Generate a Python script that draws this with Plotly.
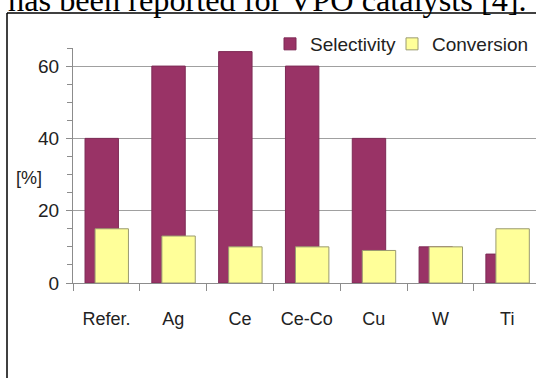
import plotly.graph_objects as go

categories = ["Refer.", "Ag", "Ce", "Ce-Co", "Cu", "W", "Ti"]
selectivity = [40, 60, 64, 60, 40, 10, 8]
conversion = [15, 13, 10, 10, 9, 10, 15]

W, H = 536, 378
L, R, T, B = 73, 536, 48, 283

def px(x):
    return (x - L) / (R - L)

def py(y):
    return (B - y) / (B - T)

font = "Liberation Sans, Arial, sans-serif"

fig = go.Figure()
fig.add_trace(go.Bar(
    x=categories, y=selectivity, name="Selectivity",
    marker=dict(color="#993366", line=dict(color="#7d2a55", width=1)),
    width=0.5, offset=-0.32, legend="legend",
))
fig.add_trace(go.Bar(
    x=categories, y=conversion, name="Conversion",
    marker=dict(color="#FFFF99", line=dict(color="#9a9a70", width=1)),
    width=0.5, offset=-0.17, legend="legend2",
))

leg_common = dict(orientation="h", yanchor="top", xanchor="left",
                  font=dict(size=19, color="#222222"), bgcolor="rgba(0,0,0,0)")

fig.update_layout(
    width=W, height=H,
    margin=dict(l=L, r=W - R, t=T, b=H - B),
    paper_bgcolor="white", plot_bgcolor="white",
    barmode="overlay",
    font=dict(family=font, size=18, color="#222222"),
    showlegend=True,
    legend=dict(x=px(270), y=py(25), **leg_common),
    legend2=dict(x=px(392), y=py(25), **leg_common),
    xaxis=dict(
        type="category", range=[-0.5, 6.43],
        showline=True, linecolor="#8c8c8c", linewidth=1,
        ticks="outside", tickson="boundaries", ticklen=7, tickcolor="#8c8c8c",
        showgrid=False, tickfont=dict(size=18, color="#222222"),
        ticklabelstandoff=19,
    ),
    yaxis=dict(
        range=[0, 65], tickvals=[0, 20, 40, 60],
        showline=True, linecolor="#8c8c8c", linewidth=1,
        ticks="outside", ticklen=6, tickcolor="#8c8c8c",
        minor=dict(dtick=5, ticks="outside", ticklen=5, tickcolor="#8c8c8c", showgrid=False),
        showgrid=True, gridcolor="#a0a0a0", gridwidth=1,
        zeroline=False, tickfont=dict(size=19, color="#222222"),
        ticklabelstandoff=3,
    ),
    annotations=[
        dict(text="[%]", x=px(29), y=py(178), xref="paper", yref="paper",
             xanchor="center", yanchor="middle", showarrow=False,
             font=dict(size=18, color="#222222")),
        dict(text="has been reported for VPO catalysts [4].", x=px(6), y=py(0),
             xref="paper", yref="paper", xanchor="left", yanchor="middle",
             showarrow=False,
             font=dict(family="Liberation Serif, Times New Roman, serif", size=32.3, color="black")),
    ],
    shapes=[
        dict(type="line", xref="paper", yref="paper", x0=px(7), x1=px(7),
             y0=py(13), y1=py(400), line=dict(color="black", width=1.5)),
        dict(type="line", xref="paper", yref="paper", x0=px(7), x1=px(560),
             y0=py(13), y1=py(13), line=dict(color="black", width=1.5)),
    ],
)

fig.write_html("out.html")
